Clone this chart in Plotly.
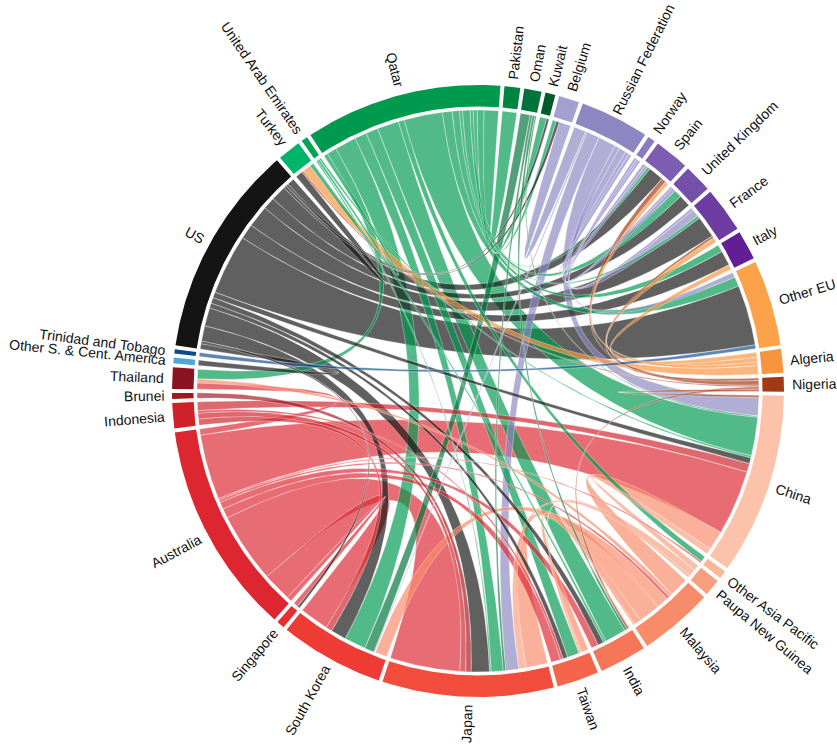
import numpy as np
import plotly.graph_objects as go

# ---------------- data ----------------
nodes = ["Qatar", "Pakistan", "Oman", "Kuwait", "Belgium", "Russian Federation", "Norway",
         "Spain", "United Kingdom", "France", "Italy", "Other EU", "Algeria", "Nigeria",
         "China", "Other Asia Pacific", "Paupa New Guinea", "Malaysia", "India", "Taiwan",
         "Japan", "South Korea", "Singapore", "Australia", "Indonesia", "Brunei", "Thailand",
         "Other S. & Cent. America", "Trinidad and Tobago", "US", "Turkey", "United Arab Emirates"]

node_colors = ["#009a4f", "#00843f", "#00733a", "#005a2b", "#a39fd1", "#8c87c3", "#8b7cc0",
               "#7c5db1", "#7450ab", "#6c3ca2", "#621f95", "#fba24a", "#f8933e", "#a13a14",
               "#fcc3aa", "#fbb597", "#f99f80", "#f88b69", "#f6765a", "#f4654c", "#f14c3c",
               "#ee3b34", "#e92e2f", "#dd2630", "#cf2129", "#a3161f", "#8a1420",
               "#4aa7de", "#0d4a8d", "#141414", "#00b46a", "#00a453"]

sources = ["Qatar"] * 16 + ["US"] * 15 + ["Australia"] * 9 + ["Russian Federation"] * 8 + \
          ["Norway"] * 3 + ["Algeria"] * 4 + ["Nigeria"] * 5 + ["Malaysia"] * 6 + \
          ["Paupa New Guinea"] * 3 + ["Indonesia"] * 4 + ["Brunei"] + ["Trinidad and Tobago"] + \
          ["Oman"] * 4 + ["United Arab Emirates"] * 3

targets = ["Turkey", "Thailand", "South Korea", "Japan", "Taiwan", "India", "Other Asia Pacific",
           "China", "Other EU", "Italy", "France", "United Kingdom", "Spain", "Belgium", "Kuwait",
           "Pakistan",
           "Other EU", "Italy", "France", "United Kingdom", "Spain", "Belgium", "Kuwait", "Turkey",
           "China", "India", "Taiwan", "Japan", "South Korea", "Singapore", "Other S. & Cent. America",
           "China", "Japan", "South Korea", "Taiwan", "India", "Singapore", "Thailand", "Malaysia",
           "Other Asia Pacific",
           "Belgium", "United Kingdom", "France", "Spain", "Other EU", "China", "Japan", "South Korea",
           "Spain", "France", "United Kingdom",
           "Turkey", "France", "Italy", "Spain",
           "Spain", "France", "Turkey", "India", "China",
           "China", "Japan", "South Korea", "Taiwan", "Thailand", "India",
           "China", "Japan", "Taiwan",
           "China", "Japan", "South Korea", "Taiwan",
           "Japan",
           "Other EU",
           "South Korea", "Japan", "India", "China",
           "India", "Japan", "China"]

values = [0.8, 2.0, 4.5, 2.5, 2.5, 4.5, 1.2, 8.0, 2.0, 1.5, 0.6, 1.6, 0.6, 0.8, 1.4, 3.0,
          12.5, 3.1, 4.5, 2.5, 3.2, 0.6, 0.5, 1.5, 1.2, 1.2, 1.0, 3.8, 3.2, 0.5, 1.1,
          13.5, 14.5, 6.0, 2.0, 1.5, 1.0, 1.3, 0.5, 0.3,
          2.5, 0.8, 1.5, 0.6, 1.0, 3.7, 2.7, 0.3,
          0.5, 0.5, 0.4,
          1.8, 1.0, 1.0, 0.7,
          1.0, 0.5, 0.3, 0.5, 0.5,
          4.0, 4.5, 2.5, 1.5, 0.8, 0.3,
          1.2, 1.5, 0.5,
          1.8, 1.2, 1.3, 0.5,
          1.1,
          0.8,
          2.0, 0.5, 0.5, 0.3,
          0.5, 0.3, 0.4]

# ---------------- geometry / style ----------------
W, H = 837, 747
CX, CY = 478.0, 391.0
R_OUT, R_IN, R_RIB = 306.0, 284.5, 281.0
GAP = 0.75
START = 326.4
RIB_ALPHA = 0.68
FONT = "Liberation Sans, Arial, sans-serif"
FSIZE = 14
LABEL_OFF = 8

n = len(nodes)
idx = {name: i for i, name in enumerate(nodes)}
totals = np.zeros(n)
for s, t, v in zip(sources, targets, values):
    totals[idx[s]] += v
    totals[idx[t]] += v
scale = (360.0 - n * GAP) / totals.sum()

n_start = np.zeros(n)
n_end = np.zeros(n)
a = START + GAP / 2
for i in range(n):
    n_start[i] = a
    n_end[i] = a + totals[i] * scale
    a = n_end[i] + GAP
n_mid = (n_start + n_end) / 2


def pt(theta, r):
    th = np.radians(theta)
    return CX + r * np.sin(th), CY - r * np.cos(th)


def arc(a0, a1, r):
    k = max(3, int(abs(a1 - a0) * 3) + 2)
    th = np.linspace(a0, a1, k)
    x, y = pt(th, r)
    return list(x), list(y)


def bez(p0, p2, k=60):
    t = np.linspace(0, 1, k)
    x = (1 - t) ** 2 * p0[0] + 2 * (1 - t) * t * CX + t ** 2 * p2[0]
    y = (1 - t) ** 2 * p0[1] + 2 * (1 - t) * t * CY + t ** 2 * p2[1]
    return list(x), list(y)


def rgba(hexc, alpha):
    hexc = hexc.lstrip("#")
    r, g, b = int(hexc[0:2], 16), int(hexc[2:4], 16), int(hexc[4:6], 16)
    return f"rgba({r},{g},{b},{alpha})"


# allocate ribbon ends on each node
ends = {}
for i in range(n):
    items = []
    for k, (s, t, v) in enumerate(zip(sources, targets, values)):
        if idx[s] == i:
            items.append((k, idx[t], v))
        elif idx[t] == i:
            items.append((k, idx[s], v))
    items.sort(key=lambda it: -((n_mid[it[1]] - n_mid[i]) % 360))
    pos = n_start[i]
    for k, p, v in items:
        w = v * scale
        ends[(k, i)] = (pos, pos + w)
        pos += w

fig = go.Figure()

order = sorted(range(len(values)), key=lambda k: -values[k])
for k in order:
    s, t = idx[sources[k]], idx[targets[k]]
    s0, s1 = ends[(k, s)]
    t0, t1 = ends[(k, t)]
    xs, ys = arc(s0, s1, R_RIB)
    bx, by = bez(pt(s1, R_RIB), pt(t0, R_RIB))
    xs += bx; ys += by
    ax_, ay_ = arc(t0, t1, R_RIB)
    xs += ax_; ys += ay_
    bx, by = bez(pt(t1, R_RIB), pt(s0, R_RIB))
    xs += bx; ys += by
    fig.add_trace(go.Scatter(x=xs, y=ys, mode="lines", fill="toself",
                             fillcolor=rgba(node_colors[s], RIB_ALPHA),
                             line=dict(color="rgba(255,255,255,0.7)", width=0.5),
                             hoverinfo="text",
                             text=f"{sources[k]} → {targets[k]}: {values[k]}",
                             showlegend=False))

# outer ring
for i in range(n):
    xo, yo = arc(n_start[i], n_end[i], R_OUT)
    xi, yi = arc(n_end[i], n_start[i], R_IN)
    fig.add_trace(go.Scatter(x=xo + xi, y=yo + yi, mode="lines", fill="toself",
                             fillcolor=node_colors[i], line=dict(width=0),
                             hoverinfo="text", text=nodes[i], showlegend=False))

# labels
cw = {' ': 278, 'a': 556, 'b': 556, 'c': 500, 'd': 556, 'e': 556, 'f': 278, 'g': 556, 'h': 556,
      'i': 222, 'j': 222, 'k': 500, 'l': 222, 'm': 833, 'n': 556, 'o': 556, 'p': 556, 'q': 556,
      'r': 333, 's': 500, 't': 278, 'u': 556, 'v': 500, 'w': 722, 'x': 500, 'y': 500, 'z': 500,
      'A': 667, 'B': 667, 'C': 722, 'D': 722, 'E': 667, 'F': 611, 'G': 778, 'H': 722, 'I': 278,
      'J': 500, 'K': 667, 'L': 556, 'M': 833, 'N': 722, 'O': 778, 'P': 667, 'Q': 778, 'R': 722,
      'S': 667, 'T': 611, 'U': 722, 'V': 667, 'W': 944, 'X': 667, 'Y': 667, 'Z': 611, '.': 278,
      '&': 667}

for i in range(n):
    name = nodes[i]
    wpx = sum(cw.get(c, 556) for c in name) * FSIZE / 1000.0
    m = n_mid[i] % 360
    r = R_OUT + LABEL_OFF + wpx / 2
    # keep the far end of long labels inside the page
    r_far = R_OUT + LABEL_OFF + wpx
    _, y_far = pt(m, r_far)
    top_extra = FSIZE * 0.5 * abs(np.sin(np.radians(m)))
    if y_far - top_extra < 2:
        r -= (2 - (y_far - top_extra)) / max(abs(np.cos(np.radians(m))), 0.3)
    x, y = pt(m, r)
    ang = m - 90 if m < 180 else m - 270
    fig.add_annotation(x=x, y=y, text=name, showarrow=False, textangle=ang,
                       xanchor="center", yanchor="middle",
                       font=dict(family=FONT, size=FSIZE, color="#111111"))

fig.update_layout(width=W, height=H, margin=dict(l=0, r=0, t=0, b=0),
                  paper_bgcolor="white", plot_bgcolor="white", showlegend=False,
                  xaxis=dict(range=[0, W], visible=False, fixedrange=True),
                  yaxis=dict(range=[H, 0], visible=False, fixedrange=True))

fig.write_html("out.html", config={"displayModeBar": False},
               post_script="document.body.style.margin='0';"
                           "document.body.style.overflow='hidden';")
